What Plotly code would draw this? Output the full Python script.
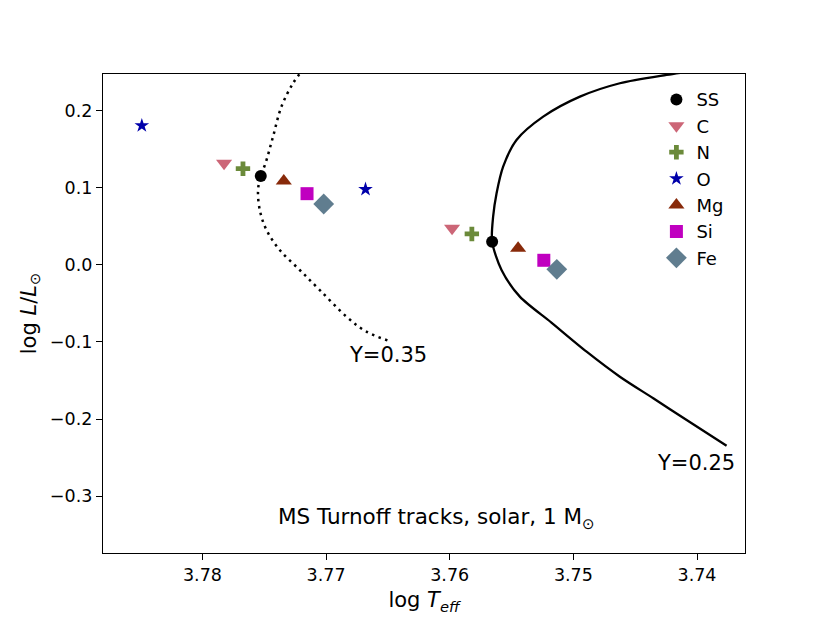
"""MS turnoff tracks with element-variation markers."""
import plotly.graph_objects as go

# Y=0.35 track (dotted)
track35_teff = [3.7718, 3.77267, 3.77361, 3.77429, 3.7749, 3.77528, 3.7755, 3.77536,
                3.77482, 3.77375, 3.77213, 3.77051, 3.76835, 3.76673, 3.76471]
track35_logl = [0.255, 0.236, 0.2056, 0.1666, 0.132, 0.1156, 0.0974, 0.0714,
                0.0455, 0.0195, -0.0065, -0.0325, -0.0671, -0.0866, -0.0996]

# Y=0.25 track (solid)
track25_teff = [3.73977, 3.74246, 3.74624, 3.74947, 3.75244, 3.7546, 3.75568, 3.75621,
                3.75649, 3.75657, 3.75581, 3.75433, 3.75180, 3.74893, 3.74624,
                3.74354, 3.74084, 3.73761]
track25_logl = [0.253, 0.2468, 0.236, 0.2186, 0.1926, 0.1623, 0.1277, 0.0931,
                0.0627, 0.0303, -0.0065, -0.0411, -0.0745, -0.1126, -0.1451,
                -0.1731, -0.2013, -0.2347]

# turnoff points: [Y=0.35, Y=0.25]
elements = ["SS", "C", "N", "O", "Mg", "Si", "Fe"]
turnoff_teff = {
    "SS": [3.77528, 3.75657],
    "C": [3.77825, 3.75981],
    "N": [3.77672, 3.75821],
    "O": [3.7849, 3.76681],
    "Mg": [3.77342, 3.75447],
    "Si": [3.77154, 3.75239],
    "Fe": [3.77019, 3.75134],
}
turnoff_logl = {
    "SS": [0.1156, 0.0303],
    "C": [0.132, 0.0476],
    "N": [0.125, 0.0403],
    "O": [0.181, 0.0983],
    "Mg": [0.109, 0.0217],
    "Si": [0.0926, 0.0061],
    "Fe": [0.0792, -0.0056],
}

symbols = {"SS": "circle", "C": "triangle-down", "N": "cross", "O": "star",
           "Mg": "triangle-up", "Si": "square", "Fe": "diamond"}
colors = {"SS": "#000000", "C": "#cc6677", "N": "#6b8a3a", "O": "#0000aa",
          "Mg": "#882a0a", "Si": "#c000c0", "Fe": "#607d8f"}
sizes = {"SS": 12, "C": 14, "N": 12, "O": 11, "Mg": 14, "Si": 13, "Fe": 16}

fig = go.Figure()
fig.add_scatter(x=track35_teff, y=track35_logl, mode="lines", showlegend=False,
                line=dict(color="black", width=2.5, dash="2.5px,4.5px", shape="spline"))
fig.add_scatter(x=track25_teff, y=track25_logl, mode="lines", showlegend=False,
                line=dict(color="black", width=2.3, shape="spline", smoothing=0.8))

for el in elements:
    fig.add_scatter(x=turnoff_teff[el], y=turnoff_logl[el], mode="markers", name=el,
                    marker=dict(symbol=symbols[el], color=colors[el], size=sizes[el],
                                line=dict(width=0)))

fig.add_annotation(x=3.765, y=-0.117, text="Y=0.35", showarrow=False,
                   font=dict(size=21))
fig.add_annotation(x=3.7401, y=-0.2575, text="Y=0.25", showarrow=False,
                   font=dict(size=21))
fig.add_annotation(x=3.76104, y=-0.3286, text="MS Turnoff tracks, solar, 1 M<sub>⊙</sub>",
                   showarrow=False, font=dict(size=21.5))

axis_style = dict(showline=True, linecolor="black", linewidth=1.3, mirror=True,
                  ticks="outside", tickcolor="black", ticklen=6, showgrid=False,
                  zeroline=False, tickfont=dict(size=17.5, color="black"))
fig.update_xaxes(range=[3.78804, 3.73612], tickvals=[3.78, 3.77, 3.76, 3.75, 3.74],
                 ticktext=["3.78", "3.77", "3.76", "3.75", "3.74"],
                 title=dict(text="log <i>T</i><sub><i>eff</i></sub>", font=dict(size=21),
                            standoff=8),
                 **axis_style)
fig.update_yaxes(range=[-0.374, 0.248], tickvals=[-0.3, -0.2, -0.1, 0.0, 0.1, 0.2],
                 ticktext=["\u22120.3", "\u22120.2", "\u22120.1", "0.0", "0.1", "0.2"],
                 title=dict(text="log <i>L</i>/<i>L</i><sub>⊙</sub>", font=dict(size=21),
                            standoff=7),
                 **axis_style)
fig.update_layout(
    width=830, height=623,
    margin=dict(l=95, r=93, t=66, b=78),
    plot_bgcolor="white", paper_bgcolor="white",
    font=dict(family="DejaVu Sans", color="black"),
    legend=dict(x=0.862, y=0.985, xanchor="left", yanchor="top",
                bgcolor="rgba(0,0,0,0)", font=dict(size=18), tracegroupgap=0),
)
fig.write_html("out.html")
